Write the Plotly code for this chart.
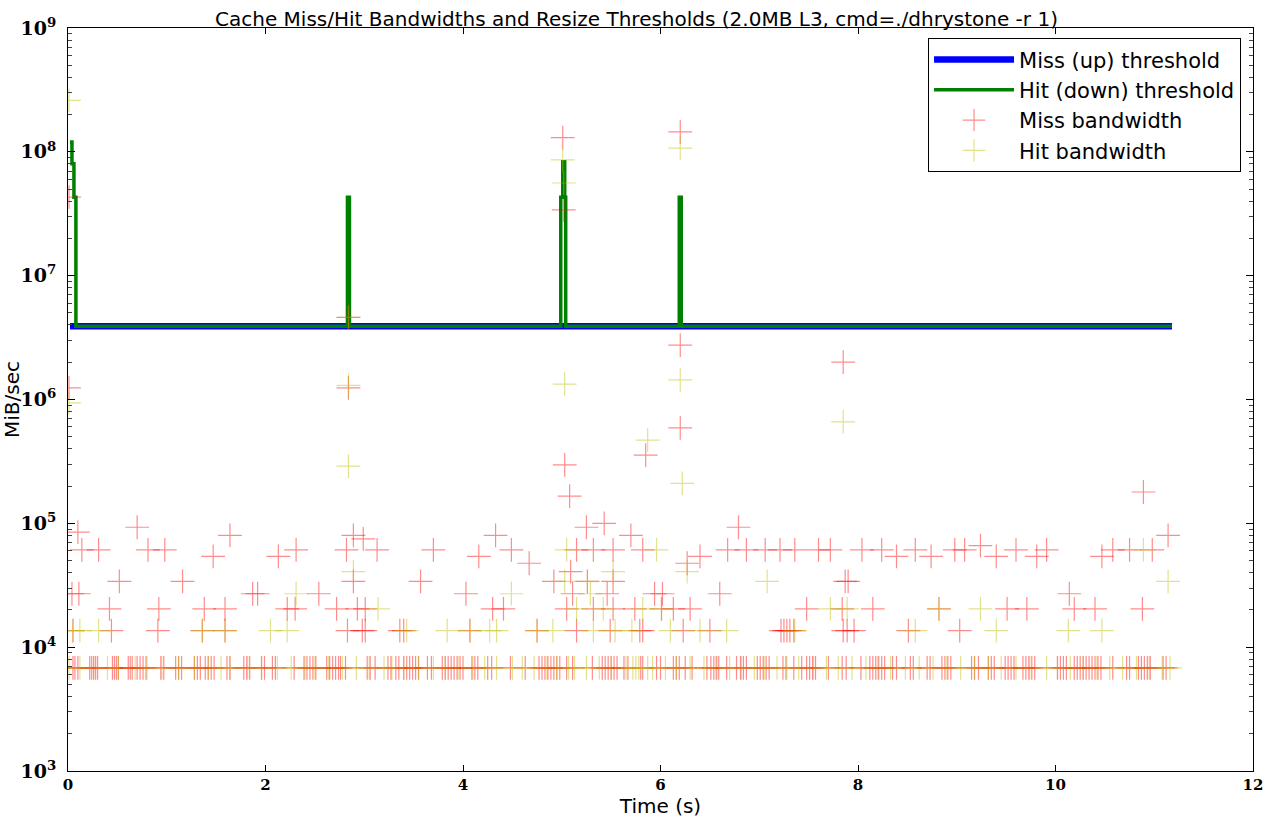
import plotly.graph_objects as go

# ---------------- data ----------------
# Threshold series (time s, MiB/sec)
miss_thr_t = [0.02, 11.18]
miss_thr_v = [3.9e6, 3.9e6]

hit_thr_t = [0.02, 0.04, 0.04, 0.06, 0.06, 0.08, 0.08,
             2.83, 2.83, 2.85, 2.85,
             4.99, 4.99, 5.01, 5.01, 5.03, 5.03, 5.04, 5.04,
             6.19, 6.19, 6.21, 6.21, 11.18]
hit_thr_v = [1.2e8, 1.2e8, 8.0e7, 8.0e7, 4.3e7, 4.3e7, 3.9e6,
             3.9e6, 4.3e7, 4.3e7, 3.9e6,
             3.9e6, 4.3e7, 4.3e7, 8.3e7, 8.3e7, 4.3e7, 4.3e7, 3.9e6,
             3.9e6, 4.3e7, 4.3e7, 3.9e6, 3.9e6]

# Bandwidth base level (dense band)
band_level = 6.8e3
miss_band_t = [0.05, 0.07, 0.10, 0.22, 0.24, 0.26, 0.28, 0.30, 0.45, 0.47, 0.49, 0.51,
               0.61, 0.63, 0.65, 0.70, 0.73, 0.76, 0.79, 0.94, 0.97, 1.09, 1.12, 1.15,
               1.28, 1.31, 1.34, 1.39, 1.42, 1.45, 1.48, 1.61, 1.64, 1.78, 1.81, 1.84,
               1.96, 1.99, 2.07, 2.10, 2.29, 2.39, 2.42, 2.45, 2.48, 2.51,
               2.62, 2.65, 2.68, 2.71, 2.74, 2.76, 2.81, 3.03, 3.06, 3.11,
               3.24, 3.27, 3.32, 3.35, 3.40, 3.43, 3.46, 3.49, 3.52, 3.55, 3.64, 3.68,
               3.79, 3.82, 3.85, 3.88, 3.91, 3.94, 3.97, 4.00, 4.09, 4.12, 4.15, 4.25, 4.29,
               4.48, 4.63, 4.77, 4.80, 4.83, 4.86, 4.89, 4.92, 4.95, 4.98, 5.05, 5.11, 5.31,
               5.41, 5.44, 5.47, 5.50, 5.53, 5.56, 5.63, 5.67, 5.80, 5.82, 5.96, 6.00,
               6.13, 6.16, 6.19, 6.25, 6.32, 6.47, 6.51, 6.54, 6.57, 6.59, 6.67,
               6.77, 6.81, 6.84, 6.87, 6.98, 7.01, 7.04, 7.07, 7.10, 7.24, 7.27, 7.35, 7.43,
               7.48, 7.51, 7.54, 7.57, 7.70, 7.84, 7.88, 8.03, 8.12, 8.15, 8.18, 8.21, 8.24, 8.27,
               8.35, 8.39, 8.53, 8.56, 8.70, 8.73, 8.85, 8.88, 8.91, 8.94, 9.15, 9.18, 9.22,
               9.32, 9.35, 9.38, 9.49, 9.52, 9.55, 9.58, 9.67, 9.70, 9.73, 9.76, 9.79,
               10.02, 10.05, 10.08, 10.11, 10.19, 10.22, 10.25, 10.28, 10.31, 10.34, 10.37,
               10.40, 10.43, 10.46, 10.58, 10.72, 10.75, 10.84, 10.87, 10.90, 10.93, 10.96,
               11.09, 11.12]
hit_band_t = [0.01, 0.12, 0.26, 0.40, 0.51, 0.68, 0.80, 0.95, 1.12, 1.28, 1.42, 1.55,
              1.64, 1.82, 1.96, 2.12, 2.26, 2.40, 2.50, 2.64, 2.78, 2.92, 3.05, 3.20,
              3.28, 3.40, 3.55, 3.70, 3.82, 3.95, 4.10, 4.22, 4.34, 4.50, 4.60, 4.72,
              4.85, 4.95, 5.07, 5.13, 5.25, 5.38, 5.50, 5.65, 5.72, 5.75, 5.78, 5.87,
              5.92, 6.05, 6.16, 6.30, 6.44, 6.56, 6.70, 6.82, 6.95, 7.05, 7.18, 7.28,
              7.40, 7.55, 7.68, 7.80, 7.94, 8.08, 8.20, 8.33, 8.48, 8.62, 8.76, 8.90,
              9.04, 9.18, 9.32, 9.45, 9.60, 9.74, 9.91, 10.02, 10.15, 10.28, 10.42,
              10.55, 10.68, 10.82, 10.95, 11.08, 11.16]

# Other (scattered) bandwidth samples
miss_t = [0.01, 0.01, 2.84, 2.84, 5.01, 5.02, 5.03, 5.08, 6.20, 6.20, 6.20, 5.85, 7.85, 10.89,
          0.10, 0.14, 0.31, 0.81, 0.98, 0.70, 1.64, 1.47, 2.13, 2.31, 2.82, 2.89, 2.99, 3.13, 3.70,
          0.52, 1.16, 0.04, 0.11, 1.87, 1.92, 2.54, 2.89, 3.57,
          0.42, 0.92, 1.38, 1.59, 2.22, 2.30, 2.72, 2.93, 3.01,
          0.05, 0.44, 0.91, 1.36, 1.59, 2.83, 2.98, 3.01, 3.36, 3.40,
          5.25, 5.43, 4.33, 5.70, 6.79, 4.16, 4.49, 4.67, 5.15, 5.32, 5.52, 5.82,
          6.27, 6.40, 6.68, 6.87, 7.06, 7.21, 7.36, 7.60, 7.72, 5.09, 4.92, 5.26, 5.52, 7.87,
          4.03, 5.11, 5.46, 5.94, 6.02, 6.60,
          4.30, 4.41, 5.05, 5.32, 5.52, 5.74, 6.01, 6.13, 6.30, 7.48, 7.84,
          4.07, 4.75, 5.15, 5.49, 5.79, 5.82, 6.23, 6.50, 7.22, 7.25, 7.28, 7.31, 7.35, 7.85,
          11.14, 8.04, 8.24, 8.58, 8.98, 9.08, 9.60, 9.91, 10.58, 10.75, 10.98,
          8.39, 8.74, 9.40, 9.81, 10.47, 9.24, 7.90, 10.14,
          8.15, 8.82, 9.51, 9.71, 10.19, 10.40, 10.88,
          7.89, 7.96, 8.51, 9.03]
miss_v = [4.3e7, 1.24e6, 4.6e6, 1.24e6, 1.3e8, 3.4e7, 2.96e5, 1.66e5, 1.45e8, 2.75e6, 5.9e5, 3.56e5, 2.0e6, 1.79e5,
          85e3, 61e3, 61e3, 61e3, 61e3, 93e3, 80e3, 54e3, 54e3, 61e3, 61e3, 80e3, 75e3, 61e3, 61e3,
          34e3, 34e3, 27e3, 27e3, 27e3, 27e3, 27e3, 34e3, 34e3,
          20.4e3, 20.4e3, 20.4e3, 20.4e3, 20.4e3, 20.4e3, 20.4e3, 20.4e3, 20.4e3,
          13.6e3, 13.6e3, 13.6e3, 13.6e3, 13.6e3, 13.6e3, 13.6e3, 13.6e3, 13.6e3, 13.6e3,
          93e3, 100e3, 80e3, 80e3, 93e3, 54e3, 61e3, 47.6e3, 61e3, 61e3, 61e3, 61e3,
          47.6e3, 54e3, 61e3, 61e3, 61e3, 61e3, 61e3, 61e3, 61e3, 40.8e3, 34e3, 34e3, 34e3, 34e3,
          27e3, 27e3, 27e3, 27e3, 27e3, 27e3,
          20.4e3, 20.4e3, 20.4e3, 20.4e3, 20.4e3, 20.4e3, 20.4e3, 20.4e3, 20.4e3, 20.4e3, 20.4e3,
          13.6e3, 13.6e3, 13.6e3, 13.6e3, 13.6e3, 13.6e3, 13.6e3, 13.6e3, 13.6e3, 13.6e3, 13.6e3, 13.6e3, 13.6e3, 13.6e3,
          80e3, 61e3, 61e3, 61e3, 61e3, 61e3, 61e3, 61e3, 61e3, 61e3, 61e3,
          54e3, 54e3, 54e3, 54e3, 54e3, 66e3, 34e3, 27e3,
          20.4e3, 20.4e3, 20.4e3, 20.4e3, 20.4e3, 20.4e3, 20.4e3,
          13.6e3, 13.6e3, 13.6e3, 13.6e3]

hit_t = [0.01, 0.01, 2.84, 2.84, 2.84, 5.01, 5.02, 5.03, 6.20, 6.20, 6.22, 5.87, 7.85, 11.14,
         2.31, 2.89, 3.14,
         0.05, 0.12, 0.31, 1.36, 1.59, 2.05, 2.22, 3.43, 3.84,
         5.05, 5.96, 5.52, 6.27, 5.03, 5.26, 7.08, 4.49, 5.29,
         5.15, 5.42, 5.82, 6.01, 7.72, 7.89,
         4.07, 4.27, 4.34, 4.75, 4.91, 5.32, 5.54, 5.71, 6.10, 6.40, 6.67, 7.36,
         10.89, 8.82, 9.24, 8.58, 9.40, 10.13, 10.47]
hit_v = [2.6e8, 9.4e5, 4.6e6, 1.3e6, 2.9e5, 8.6e7, 5.6e7, 1.33e6, 1.07e8, 1.44e6, 2.1e5, 4.7e5, 6.6e5, 34e3,
         27e3, 40.8e3, 20.4e3,
         13.6e3, 13.6e3, 13.6e3, 13.6e3, 13.6e3, 13.6e3, 13.6e3, 13.6e3, 13.6e3,
         61e3, 61e3, 40.8e3, 40.8e3, 34e3, 34e3, 34e3, 27e3, 27e3,
         20.4e3, 20.4e3, 20.4e3, 20.4e3, 20.4e3, 20.4e3,
         13.6e3, 13.6e3, 13.6e3, 13.6e3, 13.6e3, 13.6e3, 13.6e3, 13.6e3, 13.6e3, 13.6e3, 13.6e3, 13.6e3,
         61e3, 20.4e3, 20.4e3, 13.6e3, 13.6e3, 13.6e3, 13.6e3]

y_tick_exps = [3, 4, 5, 6, 7, 8, 9]
x_ticks = [0, 2, 4, 6, 8, 10, 12]

title_text = "Cache Miss/Hit Bandwidths and Resize Thresholds (2.0MB L3, cmd=./dhrystone -r 1)"

# ---------------- figure ----------------
miss_all_t = miss_band_t + miss_t
miss_all_v = [band_level] * len(miss_band_t) + miss_v
hit_all_t = hit_band_t + hit_t
hit_all_v = [band_level] * len(hit_band_t) + hit_v

red_c = "rgba(255,0,0,0.45)"
yel_c = "rgba(191,191,0,0.45)"

fig = go.Figure()
fig.add_trace(go.Scatter(x=miss_thr_t, y=miss_thr_v, mode="lines",
                         name="Miss (up) threshold",
                         line=dict(color="#0000ff", width=6.5)))
fig.add_trace(go.Scatter(x=hit_thr_t, y=hit_thr_v, mode="lines",
                         name="Hit (down) threshold",
                         line=dict(color="#008000", width=3.5)))
fig.add_trace(go.Scatter(x=miss_all_t, y=miss_all_v, mode="markers",
                         name="Miss bandwidth",
                         marker=dict(symbol="cross-thin-open", size=17, color=red_c,
                                     line=dict(color=red_c, width=1.2))))
fig.add_trace(go.Scatter(x=hit_all_t, y=hit_all_v, mode="markers",
                         name="Hit bandwidth",
                         marker=dict(symbol="cross-thin-open", size=17, color=yel_c,
                                     line=dict(color=yel_c, width=1.2))))

serif = "DejaVu Serif"
sans = "DejaVu Sans"

fig.update_layout(
    width=1273, height=819,
    paper_bgcolor="white", plot_bgcolor="white",
    margin=dict(l=68, r=20, t=28, b=48),
    title=dict(text=title_text, x=0.5, xref="container", xanchor="center",
               y=1 - 19 / 819, yref="container", yanchor="middle",
               font=dict(family=sans, size=20, color="black")),
    showlegend=True,
    legend=dict(x=0.9899, xanchor="right", y=0.986, yanchor="top",
                bgcolor="white", bordercolor="black", borderwidth=1,
                font=dict(family=sans, size=21, color="black"),
                itemwidth=80, tracegroupgap=0),
    xaxis=dict(range=[0, 12], tickvals=x_ticks, automargin=False,
               ticktext=["<b>%d</b>" % v for v in x_ticks],
               tickfont=dict(family=serif, size=15, color="black"),
               ticks="inside", ticklen=6, tickcolor="black",
               showline=True, linecolor="black", linewidth=1, mirror="allticks",
               showgrid=False, zeroline=False,
               title=dict(text="Time (s)", font=dict(family=sans, size=20, color="black"),
                          standoff=2)),
    yaxis=dict(type="log", range=[3, 9], automargin=False,
               tickvals=[10 ** e for e in y_tick_exps],
               ticktext=["<b>10<sup>%d</sup></b>" % e for e in y_tick_exps],
               tickfont=dict(family=serif, size=19, color="black"),
               ticklabelstandoff=7,
               ticks="inside", ticklen=7, tickcolor="black",
               minor=dict(ticks="inside", ticklen=4, tickcolor="#444", dtick="D1", showgrid=False),
               showline=True, linecolor="black", linewidth=1, mirror="allticks",
               showgrid=False, zeroline=False,
               title=dict(text="MiB/sec", font=dict(family=sans, size=20, color="black"),
                          standoff=10)),
)

fig.write_html("out.html", config={"displayModeBar": False},
               post_script="document.body.style.margin='0px';document.body.style.overflow='hidden';")
